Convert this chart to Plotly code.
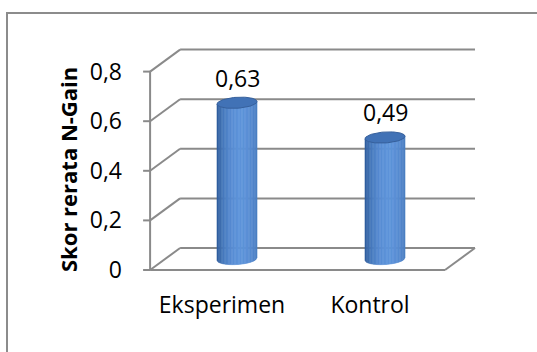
import numpy as np
import plotly.graph_objects as go

# Chart data
categories = ["Eksperimen", "Kontrol"]
values = [0.63, 0.49]
value_labels = ["0,63", "0,49"]
y_ticks = [0, 0.2, 0.4, 0.6, 0.8]
y_tick_labels = ["0", "0,2", "0,4", "0,6", "0,8"]
y_title = "Skor rerata N-Gain"

# Canvas / projection settings
W, H = 537, 352
SX, SY = 148.0, 248.0          # pixels per category step / per value unit
X0_PX, Y0_PX = 222.0, 270.0    # pixel of front (category 0, value 0)
ML, MR, MT, MB = 140, 56, 44, 78

xr = [(ML - X0_PX) / SX, (W - MR - X0_PX) / SX]
yr = [(Y0_PX - (H - MB)) / SY, (Y0_PX - MT) / SY]

DX, DY = 30 / SX, 22 / SY      # depth offset of the back wall
X_LEFT = -0.5 + 2.1 / SX
X_RIGHT = len(categories) - 0.5 + 1.0 / SX
Y_TOP = max(y_ticks)

GRID = "#8a8a8a"
GRID_W = 2
FONT = "Open Sans"

shapes = []


def seg(x0, y0, x1, y1, color=GRID, width=GRID_W):
    shapes.append(dict(type="line", xref="x", yref="y", x0=x0, y0=y0, x1=x1, y1=y1,
                       line=dict(color=color, width=width), layer="below"))


# back wall gridlines and side-wall diagonals
for v in y_ticks:
    seg(X_LEFT + DX, v + DY, X_RIGHT + DX, v + DY)
    seg(X_LEFT, v, X_LEFT + DX, v + DY)
    seg(X_LEFT - 7 / SX, v, X_LEFT, v)            # tick mark
# front vertical axis and floor outline
seg(X_LEFT, 0, X_LEFT, Y_TOP)
seg(X_LEFT, 0, X_RIGHT, 0)
seg(X_RIGHT, 0, X_RIGHT + DX, DY)

# outer chart border
px_w = W - ML - MR
px_h = H - MT - MB
shapes.append(dict(type="rect", xref="paper", yref="paper",
                   x0=(7 - ML) / px_w, x1=1.5, y0=-1.0, y1=((H - MB) - 13) / px_h,
                   line=dict(color="#8c8c8c", width=2), fillcolor="rgba(0,0,0,0)",
                   layer="below"))

fig = go.Figure()

# cylinders
RX = 20 / SX
RY = 5.5 / SY
TILT = 1.2 / SY      # slight tilt of the ellipses (right side higher)
N_STRIPS = 28

dark = np.array([0x2c, 0x58, 0x98])
light = np.array([0x5e, 0x94, 0xdb])


def shade(t):
    # t in [-1, 1] across the cylinder; highlight slightly right of centre
    k = 1 - ((t - 0.2) / 1.2) ** 2
    k = np.clip(k, 0, 1) ** 0.8
    c = dark + (light - dark) * k
    return "rgb(%d,%d,%d)" % tuple(c.astype(int))


for i, v in enumerate(values):
    cx = i + DX / 2
    base = DY / 2
    top = base + v
    edges = np.linspace(-RX, RX, N_STRIPS + 1)
    for a, b in zip(edges[:-1], edges[1:]):
        xs_arc = np.linspace(b, a, 6)
        bottom = base - RY * np.sqrt(np.clip(1 - (xs_arc / RX) ** 2, 0, 1)) + TILT * xs_arc / RX
        top_a = top + TILT * a / RX
        top_b = top + TILT * b / RX
        xs = [cx + a, cx + b] + list(cx + xs_arc) + [cx + a]
        ys = [top_a, top_b] + list(bottom) + [top_a]
        col = shade((a + b) / 2 / RX)
        fig.add_trace(go.Scatter(x=xs, y=ys, mode="lines", fill="toself",
                                 fillcolor=col, line=dict(color=col, width=0.6),
                                 hoverinfo="skip", showlegend=False))
    # top cap
    th = np.linspace(0, 2 * np.pi, 80)
    ex = RX * np.cos(th)
    ey = top + RY * np.sin(th) + TILT * np.cos(th)
    fig.add_trace(go.Scatter(x=cx + ex, y=ey, mode="lines", fill="toself",
                             fillcolor="#4172b6", line=dict(color="#36609c", width=1),
                             hoverinfo="skip", showlegend=False))
    # value label
    fig.add_annotation(x=cx, y=top, xref="x", yref="y", text=value_labels[i],
                       showarrow=False, yanchor="bottom", yshift=7,
                       font=dict(family=FONT, size=23, color="#000000"))

# vertical axis title
fig.add_annotation(xref="paper", yref="y", x=(68 - ML) / px_w, y=(Y0_PX - 170) / SY,
                   text="<b>%s</b>" % y_title, textangle=-90, showarrow=False,
                   xanchor="center", yanchor="middle",
                   font=dict(family=FONT, size=22, color="#000000"))

fig.update_layout(
    width=W, height=H,
    margin=dict(l=ML, r=MR, t=MT, b=MB, pad=0),
    paper_bgcolor="white", plot_bgcolor="white",
    shapes=shapes,
    showlegend=False,
    xaxis=dict(range=xr, tickvals=list(range(len(categories))), ticktext=categories,
               showgrid=False, zeroline=False, showline=False, ticks="",
               ticklabelstandoff=15,
               tickfont=dict(family=FONT, size=23, color="#000000"),
               fixedrange=True),
    yaxis=dict(range=yr, tickvals=y_ticks, ticktext=y_tick_labels,
               showgrid=False, zeroline=False, showline=False, ticks="",
               ticklabelstandoff=17,
               tickfont=dict(family=FONT, size=23, color="#000000"),
               fixedrange=True),
)

fig.write_html("out.html")
